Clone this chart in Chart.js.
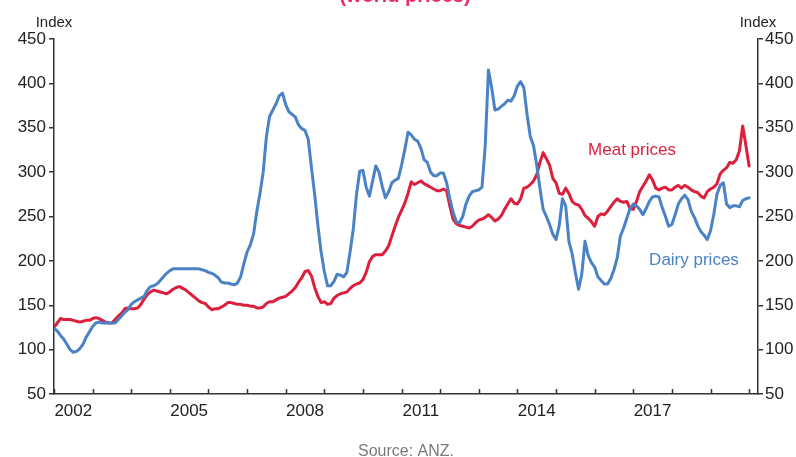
<!DOCTYPE html>
<html>
<head>
<meta charset="utf-8">
<script src="https://cdn.jsdelivr.net/npm/chart.js@4/dist/chart.umd.min.js"></script>
<style>
  html, body { margin: 0; padding: 0; background: #fff; }
  #wrap { width: 796px; height: 457px; position: relative; }
</style>
</head>
<body>
<div id="wrap"><canvas id="chart" width="796" height="457"></canvas></div>
<script>
// Monthly index values, first month January 2002
const startYear = 2002;

const dairyPrices = [
  124,121,116,112,106,100,97,98,101,106,
  114,120,126,130,131,130,130,130,130,130,
  134,138,142,145,151,154,156,158,160,167,
  171,172,174,178,182,186,189,191,191,191,
  191,191,191,191,191,191,190,189,187,186,
  184,181,176,175,175,174,173,175,182,197,
  210,218,230,255,276,300,340,363,370,377,
  386,389,376,368,365,362,353,349,347,337,
  305,275,240,210,188,172,172,177,185,184,
  182,187,210,236,275,301,302,283,273,290,
  307,300,284,271,278,288,291,293,308,325,
  345,342,337,335,327,314,311,300,296,296,
  299,299,288,270,255,244,243,250,264,273,
  278,279,280,283,330,415,395,370,371,374,
  377,381,380,386,397,402,395,365,340,330,
  308,282,258,250,241,230,224,240,270,262,
  222,208,187,168,185,222,206,198,193,182,
  178,174,174,180,190,203,228,237,248,259,
  264,262,258,252,259,267,272,273,272,260,
  250,239,241,252,264,270,274,269,256,249,
  240,233,229,224,234,252,275,285,288,264,
  260,262,262,261,268,270,271
];

const meatPrices = [
  125,130,135,134,134,134,133,132,131,132,
  133,133,135,136,135,133,131,130,130,134,
  138,141,146,147,146,146,147,151,157,162,
  165,167,166,165,164,163,165,168,170,171,
  169,167,164,161,158,155,153,152,148,145,
  146,146,148,150,153,153,152,151,151,150,
  150,149,149,147,147,148,152,154,154,156,
  158,159,160,163,166,170,176,181,188,189,
  183,170,160,153,154,151,152,158,161,163,
  164,165,169,172,174,175,179,187,199,205,
  207,207,207,211,217,228,239,249,257,265,
  276,289,286,288,290,287,285,283,281,279,
  279,281,279,262,247,242,240,239,238,237,
  239,243,246,247,249,252,249,245,247,251,
  258,264,270,265,264,270,282,283,286,290,
  297,311,322,315,308,293,288,276,275,282,
  276,267,264,263,258,251,248,244,239,250,
  253,252,256,261,266,270,267,266,267,259,
  258,267,278,284,290,297,291,282,280,282,
  283,280,280,283,285,282,285,283,280,278,
  277,273,271,278,281,283,287,298,302,305,
  311,310,314,324,352,330,307
];

const yearLabels = [2002, 2005, 2008, 2011, 2014, 2017];
const yearTickMarks = [2002, 2003, 2004, 2005, 2006, 2007, 2008, 2009, 2010, 2011,
                       2012, 2013, 2014, 2015, 2016, 2017, 2018, 2019, 2020];
const indexTicks = [50, 100, 150, 200, 250, 300, 350, 400, 450];

const titleText = '(world prices)';
const axisTitle = 'Index';
const sourceText = 'Source: ANZ.';
const meatLabel = 'Meat prices';
const dairyLabel = 'Dairy prices';

const RED = '#dc1f3c';
const BLUE = '#4a82c6';
const AXIS = '#333333';
const TEXT = '#222222';
const FONT = '"Liberation Sans", Arial, Helvetica, sans-serif';

const toPoints = arr => arr.map((v, i) => ({ x: startYear + i / 12, y: v }));

// Tick marks on the year axis point up into the plot area
const yearTicksPlugin = {
  id: 'yearTicks',
  afterDraw(chart) {
    const { ctx, chartArea } = chart;
    const xs = chart.scales.x;
    ctx.save();
    ctx.strokeStyle = AXIS;
    ctx.lineWidth = 1.5;
    yearTickMarks.forEach(y => {
      const px = Math.round(xs.getPixelForValue(y)) + 0.5;
      ctx.beginPath();
      ctx.moveTo(px, chartArea.bottom);
      ctx.lineTo(px, chartArea.bottom - 5);
      ctx.stroke();
    });
    ctx.restore();
  }
};

// Title, axis units, series names and source note
const textPlugin = {
  id: 'texts',
  afterDraw(chart) {
    const { ctx, chartArea } = chart;
    const xs = chart.scales.x;
    const ys = chart.scales.y;
    ctx.save();

    ctx.fillStyle = '#ec2a66';
    ctx.font = 'bold 20px ' + FONT;
    ctx.textAlign = 'center';
    ctx.textBaseline = 'alphabetic';
    ctx.fillText(titleText, 405, 1.5);

    ctx.fillStyle = TEXT;
    ctx.font = '15px ' + FONT;
    ctx.fillText(axisTitle, chartArea.left, 26.5);
    ctx.fillText(axisTitle, chartArea.right, 26.5);

    ctx.font = '17px ' + FONT;
    ctx.textAlign = 'left';
    ctx.fillStyle = RED;
    ctx.fillText(meatLabel, xs.getPixelForValue(2015.83), ys.getPixelForValue(319));
    ctx.fillStyle = BLUE;
    ctx.fillText(dairyLabel, xs.getPixelForValue(2017.41), ys.getPixelForValue(195));

    ctx.fillStyle = '#7a7a7a';
    ctx.font = '16px ' + FONT;
    ctx.textAlign = 'center';
    ctx.fillText(sourceText, 406, 456);
    ctx.restore();
  }
};

const yAxis = (position, width, pad) => ({
  type: 'linear',
  position,
  min: 50,
  max: 450,
  afterBuildTicks: s => { s.ticks = indexTicks.map(v => ({ value: v })); },
  afterFit: s => { s.width = width; },
  grid: { display: true, drawOnChartArea: false, drawTicks: true, tickLength: 5, color: AXIS, lineWidth: 1.5 },
  border: { display: true, color: AXIS, width: 1.5 },
  ticks: { color: TEXT, font: { family: FONT, size: 17 }, padding: pad }
});

new Chart(document.getElementById('chart'), {
  type: 'line',
  data: {
    datasets: [
      {
        label: dairyLabel,
        data: toPoints(dairyPrices),
        borderColor: BLUE,
        borderWidth: 3,
        pointRadius: 0,
        tension: 0,
        fill: false,
        order: 0,
        yAxisID: 'y'
      },
      {
        label: meatLabel,
        data: toPoints(meatPrices),
        borderColor: RED,
        borderWidth: 3,
        pointRadius: 0,
        tension: 0,
        fill: false,
        order: 1,
        yAxisID: 'y'
      }
    ]
  },
  options: {
    responsive: false,
    animation: false,
    devicePixelRatio: 1,
    layout: { padding: { top: 39, left: 0, right: 0, bottom: 0 } },
    plugins: { legend: { display: false }, tooltip: { enabled: false }, title: { display: false } },
    elements: { line: { borderJoinStyle: 'round', borderCapStyle: 'round' } },
    scales: {
      x: {
        type: 'linear',
        position: 'bottom',
        min: 2002,
        max: 2020.23,
        afterBuildTicks: s => { s.ticks = yearLabels.map(y => ({ value: y + 0.5 })); },
        afterFit: s => { s.height = 63; },
        grid: { display: false, drawTicks: false },
        border: { display: true, color: AXIS, width: 1.5 },
        ticks: {
          color: TEXT,
          font: { family: FONT, size: 17 },
          padding: 7,
          maxRotation: 0,
          autoSkip: false,
          callback: v => String(Math.floor(v))
        }
      },
      y: yAxis('left', 54, 3),
      y2: yAxis('right', 38, 2)
    }
  },
  plugins: [yearTicksPlugin, textPlugin]
});
</script>
</body>
</html>
